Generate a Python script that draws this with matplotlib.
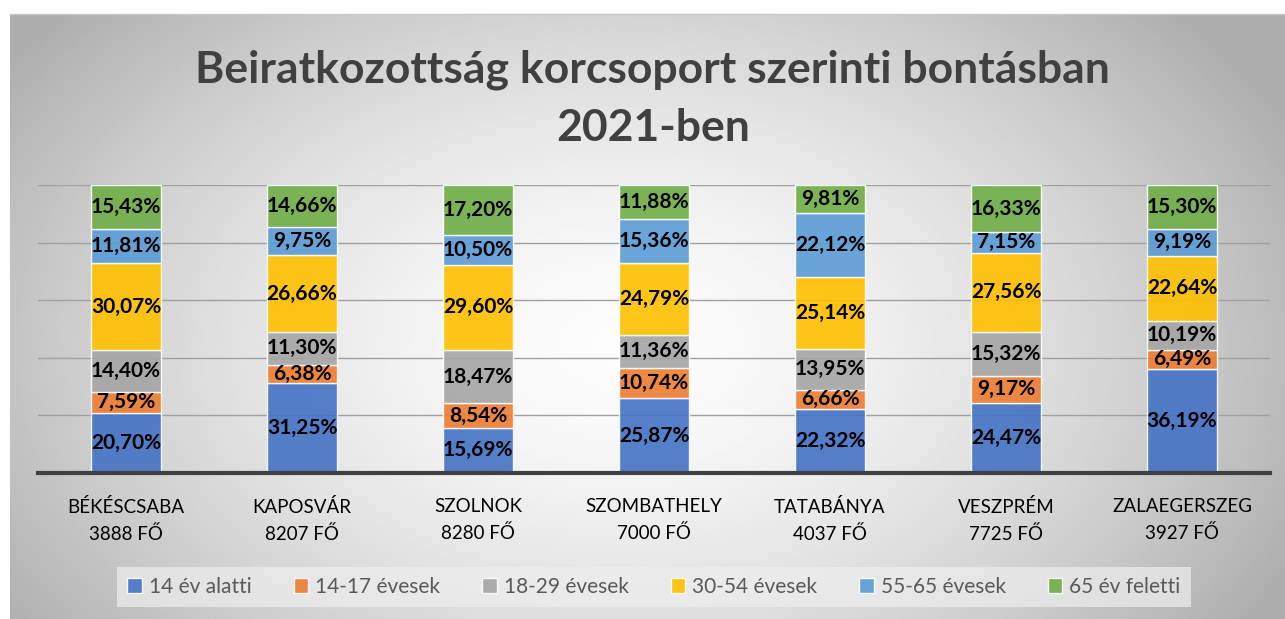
import numpy as np
import matplotlib
matplotlib.use("Agg")
import matplotlib.pyplot as plt
from matplotlib.patches import Patch

plt.rcParams['font.family'] = ['Lato', 'DejaVu Sans']

# Chart data (percent of enrolled per age group)
cities = ['BÉKÉSCSABA', 'KAPOSVÁR', 'SZOLNOK', 'SZOMBATHELY', 'TATABÁNYA', 'VESZPRÉM', 'ZALAEGERSZEG']
totals = [3888, 8207, 8280, 7000, 4037, 7725, 3927]
groups = ['14 év alatti', '14-17 évesek', '18-29 évesek', '30-54 évesek', '55-65 évesek', '65 év feletti']

under_14 = [20.70, 31.25, 15.69, 25.87, 22.32, 24.47, 36.19]
age_14_17 = [7.59, 6.38, 8.54, 10.74, 6.66, 9.17, 6.49]
age_18_29 = [14.40, 11.30, 18.47, 11.36, 13.95, 15.32, 10.19]
age_30_54 = [30.07, 26.66, 29.60, 24.79, 25.14, 27.56, 22.64]
age_55_65 = [11.81, 9.75, 10.50, 15.36, 22.12, 7.15, 9.19]
over_65 = [15.43, 14.66, 17.20, 11.88, 9.81, 16.33, 15.30]

series = [under_14, age_14_17, age_18_29, age_30_54, age_55_65, over_65]
colors = ['#4472C4', '#ED7D31', '#A5A5A5', '#FFC000', '#5B9BD5', '#70AD47']

W, H = 1285, 619
fig = plt.figure(figsize=(W / 100, H / 100), dpi=100)

# radial gradient background of the chart area
bg = fig.add_axes([10 / W, 0, (W - 10) / W, (H - 14) / H])
yy, xx = np.mgrid[0:1:300j, 0:1:600j]
r = np.sqrt(((xx - 0.48) / 0.6) ** 2 + ((yy - 0.55) / 0.85) ** 2)
shade = np.clip(0.99 - 0.32 * r ** 1.6, 0.68, 1.0)
bg.imshow(shade, cmap='gray', vmin=0, vmax=1, aspect='auto', extent=[0, 1, 0, 1])
bg.set_axis_off()
fig.add_artist(plt.Line2D([10 / W, 1], [(H - 14) / H] * 2, color='#c8c8c8', lw=1))

ax = fig.add_axes([38 / W, 146 / H, 1232 / W, 288 / H])
ax.patch.set_alpha(0)
x = np.arange(len(cities))
bottom = np.zeros(len(cities))
for vals, col in zip(series, colors):
    vals = np.array(vals)
    ax.bar(x, vals, 0.4, bottom=bottom, color=col, alpha=0.9,
           edgecolor='white', linewidth=1, zorder=3)
    for xi, b, v in zip(x, bottom, vals):
        ax.text(xi, b + v / 2, f'{v:.2f}%'.replace('.', ','), ha='center', va='center',
                fontsize=15, fontweight='bold', color='black', zorder=4)
    bottom += vals

ax.set_xlim(-0.5, len(cities) - 0.5)
ax.set_ylim(0, 100)
ax.set_yticks([20, 40, 60, 80, 100])
ax.yaxis.grid(True, color='#a0a0a0', lw=1)
ax.tick_params(axis='y', left=False, labelleft=False)
ax.tick_params(axis='x', length=0, pad=18)
ax.set_xticks(x)
ax.set_xticklabels([f'{c}\n{t} FŐ' for c, t in zip(cities, totals)],
                   fontsize=13.5, color='black', linespacing=1.65)
for s in ['top', 'right', 'left']:
    ax.spines[s].set_visible(False)
ax.spines['bottom'].set_color('#404040')
ax.spines['bottom'].set_linewidth(3)
ax.spines['bottom'].set_zorder(5)

fig.text(0.508, 1 - 70 / H, 'Beiratkozottság korcsoport szerinti bontásban',
         ha='center', va='center', fontsize=32, fontweight='bold', color='#404040')
fig.text(0.508, 1 - 128 / H, '2021-ben',
         ha='center', va='center', fontsize=32, fontweight='bold', color='#404040')

handles = [Patch(facecolor=c, edgecolor='white', alpha=0.9) for c in colors]
leg = fig.legend(handles, groups, loc='center', bbox_to_anchor=(654 / W, 32 / H), ncol=6,
                 fontsize=15, frameon=True, fancybox=False, columnspacing=2.0,
                 handlelength=0.7, handleheight=0.7, handletextpad=0.35,
                 borderpad=0.5, labelcolor='#595959')
leg.get_frame().set_facecolor('#eeeeee')
leg.get_frame().set_alpha(0.7)
leg.get_frame().set_edgecolor('none')

fig.savefig('out.png', dpi=100)
